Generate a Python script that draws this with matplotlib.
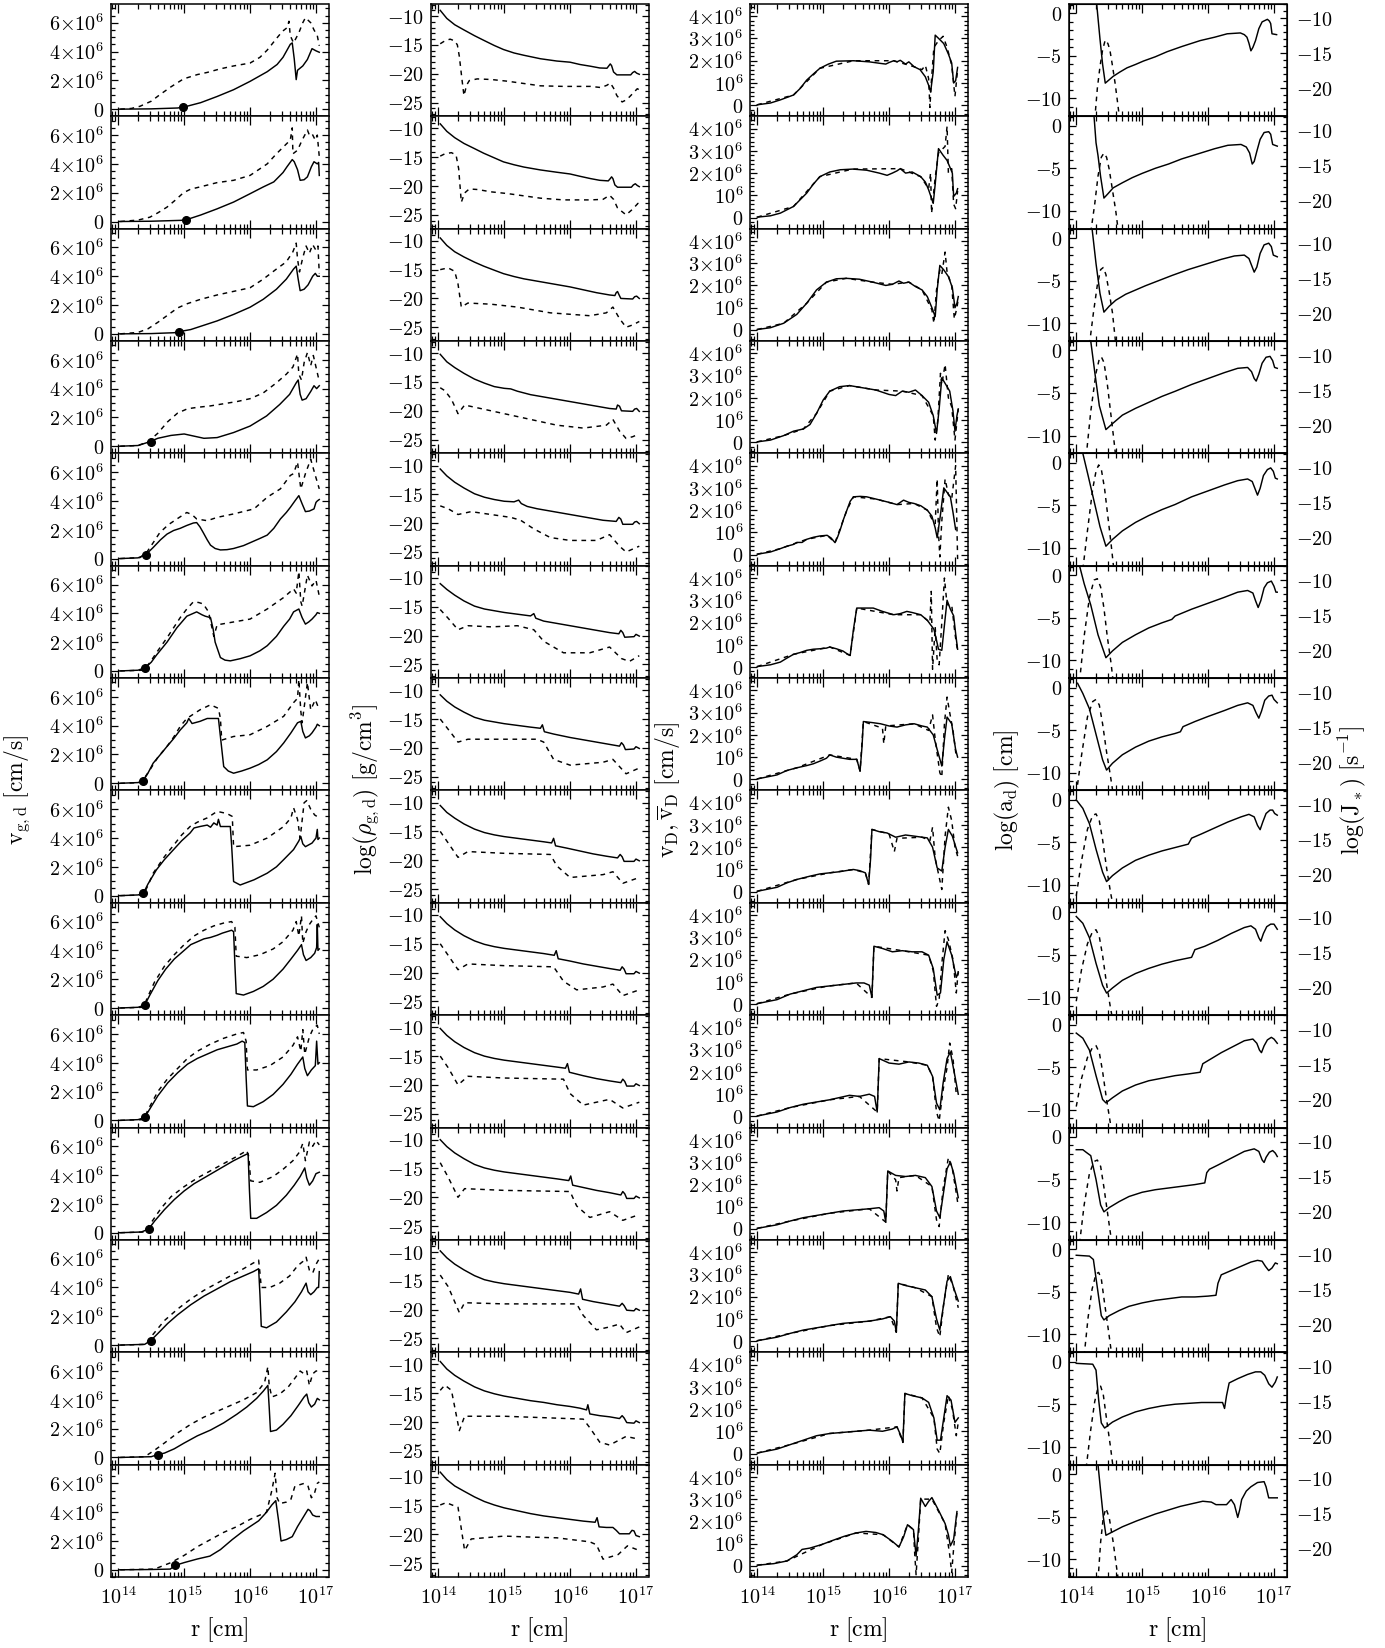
import numpy as np
import matplotlib
matplotlib.use("Agg")
import matplotlib.pyplot as plt
from matplotlib.ticker import FixedLocator, MultipleLocator, LogLocator, NullFormatter, FixedFormatter

plt.rcParams['mathtext.fontset'] = 'cm'
plt.rcParams['font.family'] = ['DejaVu Serif']

# ---------------- DATA (log10 r [cm], value) ----------------
# Column 1: gas (solid) and dust (dashed) velocity, in units of 1e6 cm/s
VG_GAS = [
 [(14.02,0.0),(14.5,0.02),(14.9,0.08),(15.0,0.15),(15.25,0.45),(15.5,0.88),(15.75,1.35),(16.0,1.93),(16.26,2.6),(16.41,3.1),(16.5,3.6),(16.61,4.5),(16.64,4.6),(16.67,3.5),(16.70,2.05),(16.72,2.7),(16.8,3.0),(16.87,3.45),(16.94,4.2),(17.0,4.05),(17.05,3.95)],
 [(14.02,0.0),(14.5,0.02),(14.95,0.08),(15.03,0.12),(15.25,0.45),(15.5,0.88),(15.75,1.35),(16.0,1.93),(16.2,2.4),(16.36,2.75),(16.5,3.4),(16.56,3.8),(16.64,4.3),(16.67,4.15),(16.72,3.6),(16.76,2.86),(16.82,2.9),(16.87,3.1),(16.93,3.8),(16.97,4.15),(17.02,4.0),(17.04,4.1),(17.05,3.2)],
 [(14.02,0.0),(14.5,0.02),(14.85,0.08),(14.92,0.15),(15.1,0.3),(15.3,0.6),(15.5,0.9),(15.75,1.35),(16.0,1.85),(16.2,2.4),(16.4,3.1),(16.55,3.8),(16.66,4.5),(16.7,4.7),(16.73,3.8),(16.76,3.0),(16.82,3.1),(16.88,3.4),(16.95,4.0),(16.99,4.2),(17.02,4.0),(17.05,4.0)],
 [(14.02,0.0),(14.3,0.05),(14.47,0.3),(14.6,0.55),(14.8,0.75),(15.0,0.85),(15.15,0.7),(15.3,0.55),(15.5,0.6),(15.75,0.95),(16.0,1.4),(16.25,2.1),(16.45,2.9),(16.6,3.6),(16.7,4.4),(16.73,4.6),(16.76,3.6),(16.79,3.2),(16.85,3.3),(16.92,3.8),(16.97,4.2),(17.01,4.0),(17.05,4.2)],
 [(14.02,0.0),(14.3,0.05),(14.42,0.28),(14.53,0.77),(14.64,1.3),(14.74,1.7),(14.84,1.95),(14.94,2.1),(15.04,2.3),(15.14,2.47),(15.19,2.5),(15.24,2.2),(15.29,1.8),(15.35,1.3),(15.40,0.93),(15.47,0.7),(15.55,0.6),(15.65,0.62),(15.75,0.7),(15.9,0.9),(16.0,1.1),(16.15,1.4),(16.26,1.63),(16.36,2.1),(16.46,2.75),(16.55,3.2),(16.61,3.55),(16.68,4.0),(16.74,4.37),(16.79,3.8),(16.84,3.26),(16.9,3.3),(16.97,3.45),(17.0,3.9),(17.02,4.0),(17.05,4.1)],
 [(14.02,0.0),(14.3,0.05),(14.41,0.23),(14.5,0.6),(14.58,1.1),(14.74,2.0),(14.89,3.0),(15.04,3.8),(15.19,4.1),(15.27,3.9),(15.32,3.8),(15.40,3.7),(15.44,2.9),(15.47,2.0),(15.55,0.93),(15.62,0.75),(15.70,0.7),(15.85,0.85),(16.0,1.05),(16.15,1.4),(16.26,1.75),(16.4,2.4),(16.51,3.1),(16.6,3.6),(16.66,4.1),(16.74,4.3),(16.79,3.7),(16.84,3.25),(16.89,3.4),(16.94,3.6),(17.0,3.9),(17.02,4.05),(17.05,4.0)],
 [(14.02,0.0),(14.3,0.05),(14.38,0.19),(14.45,0.7),(14.53,1.4),(14.64,2.0),(14.74,2.56),(14.84,3.1),(14.94,3.7),(15.04,4.2),(15.07,4.5),(15.12,4.15),(15.24,4.3),(15.35,4.5),(15.45,4.5),(15.52,4.5),(15.55,3.25),(15.60,1.16),(15.67,0.85),(15.75,0.7),(15.87,0.85),(16.0,1.05),(16.13,1.3),(16.26,1.63),(16.4,2.2),(16.51,2.8),(16.62,3.5),(16.72,4.2),(16.77,4.3),(16.8,3.6),(16.84,3.15),(16.9,3.3),(16.94,3.5),(17.0,3.9),(17.02,4.1),(17.05,4.0)],
 [(14.02,0.0),(14.3,0.05),(14.38,0.16),(14.45,0.8),(14.58,1.8),(14.7,2.5),(14.84,3.2),(14.96,3.8),(15.09,4.35),(15.15,4.7),(15.24,4.8),(15.35,4.9),(15.4,4.75),(15.45,5.05),(15.5,4.9),(15.52,5.3),(15.55,4.8),(15.70,4.8),(15.72,3.5),(15.73,2.7),(15.75,0.98),(15.85,0.74),(16.06,1.1),(16.26,1.56),(16.4,2.0),(16.51,2.5),(16.66,3.2),(16.74,3.8),(16.77,4.1),(16.8,3.6),(16.84,3.4),(16.94,3.65),(17.0,4.0),(17.02,4.6),(17.03,3.9),(17.05,4.0)],
 [(14.02,0.0),(14.3,0.05),(14.4,0.2),(14.48,0.9),(14.6,1.9),(14.72,2.7),(14.85,3.4),(15.0,4.0),(15.1,4.4),(15.2,4.6),(15.3,4.8),(15.4,4.9),(15.5,5.05),(15.58,5.2),(15.65,5.3),(15.72,5.4),(15.75,5.3),(15.77,3.0),(15.79,1.0),(15.9,0.9),(16.05,1.15),(16.2,1.5),(16.35,2.0),(16.5,2.7),(16.62,3.4),(16.72,4.0),(16.78,4.4),(16.81,3.7),(16.85,3.3),(16.92,3.5),(16.98,3.8),(17.01,4.2),(17.02,5.8),(17.03,4.0),(17.05,4.1)],
 [(14.02,0.0),(14.3,0.05),(14.4,0.2),(14.48,0.8),(14.6,1.7),(14.75,2.6),(14.9,3.3),(15.05,3.9),(15.2,4.3),(15.35,4.6),(15.5,4.9),(15.65,5.1),(15.8,5.3),(15.88,5.5),(15.92,5.4),(15.94,3.0),(15.96,1.0),(16.05,0.95),(16.2,1.3),(16.35,1.8),(16.5,2.5),(16.62,3.2),(16.72,3.9),(16.8,4.4),(16.83,3.6),(16.87,3.1),(16.93,3.5),(16.99,3.8),(17.01,5.5),(17.03,3.9),(17.05,4.0)],
 [(14.02,0.0),(14.35,0.05),(14.46,0.25),(14.55,0.8),(14.7,1.6),(14.85,2.3),(15.0,2.9),(15.15,3.4),(15.3,3.8),(15.45,4.2),(15.6,4.6),(15.75,5.0),(15.88,5.3),(15.97,5.5),(15.99,3.0),(16.01,1.0),(16.1,1.0),(16.25,1.4),(16.4,1.9),(16.55,2.6),(16.67,3.3),(16.76,3.9),(16.83,4.5),(16.86,3.8),(16.9,3.3),(16.95,3.6),(17.0,4.1),(17.05,4.2)],
 [(14.02,0.0),(14.4,0.05),(14.49,0.3),(14.6,0.8),(14.75,1.5),(14.9,2.1),(15.1,2.8),(15.3,3.4),(15.5,3.9),(15.7,4.4),(15.9,4.8),(16.05,5.1),(16.13,5.3),(16.15,3.5),(16.17,1.3),(16.25,1.2),(16.4,1.6),(16.55,2.3),(16.68,3.0),(16.78,3.7),(16.85,4.3),(16.88,3.7),(16.92,3.5),(16.97,3.7),(17.02,4.0),(17.04,4.0),(17.05,5.1)],
 [(14.02,0.0),(14.5,0.05),(14.6,0.2),(14.7,0.3),(14.85,0.6),(15.0,1.0),(15.2,1.5),(15.4,1.9),(15.6,2.4),(15.8,3.0),(15.95,3.5),(16.1,4.1),(16.2,4.6),(16.27,5.0),(16.29,3.5),(16.31,1.8),(16.4,1.9),(16.5,2.3),(16.62,2.9),(16.73,3.6),(16.82,4.2),(16.86,4.4),(16.89,3.8),(16.93,3.5),(16.98,3.7),(17.02,4.1),(17.05,4.0)],
 [(14.02,0.0),(14.5,0.02),(14.79,0.05),(14.86,0.3),(15.0,0.5),(15.2,0.75),(15.39,0.95),(15.55,1.4),(15.73,2.1),(15.9,2.7),(16.13,3.4),(16.25,4.0),(16.33,4.5),(16.39,4.8),(16.43,3.5),(16.47,2.0),(16.55,2.1),(16.64,2.3),(16.72,3.0),(16.8,3.6),(16.88,4.2),(16.91,4.1),(16.95,3.8),(17.0,3.7),(17.05,3.7)],
]
VG_DUST = [
 [(14.03,0.0),(14.2,0.05),(14.33,0.2),(14.5,0.55),(14.63,1.0),(14.8,1.55),(14.99,2.1),(15.2,2.4),(15.35,2.55),(15.55,2.8),(15.75,3.0),(16.0,3.2),(16.15,3.6),(16.26,4.1),(16.4,4.9),(16.49,5.4),(16.56,5.65),(16.59,6.1),(16.61,5.1),(16.66,4.6),(16.74,5.3),(16.8,6.0),(16.84,6.35),(16.92,6.0),(16.97,5.5),(17.02,5.1),(17.05,4.4)],
 [(14.03,0.0),(14.3,0.1),(14.48,0.3),(14.6,0.6),(14.74,1.0),(14.87,1.5),(14.99,2.0),(15.1,2.25),(15.24,2.4),(15.5,2.7),(15.75,2.86),(16.0,3.2),(16.26,4.0),(16.4,4.7),(16.51,5.2),(16.61,5.65),(16.64,6.5),(16.65,4.7),(16.72,4.95),(16.79,5.65),(16.87,6.35),(16.9,6.0),(16.94,6.1),(16.99,5.65),(17.02,6.0),(17.05,4.5)],
 [(14.03,0.0),(14.3,0.1),(14.45,0.35),(14.6,0.8),(14.75,1.3),(14.9,1.8),(15.05,2.1),(15.25,2.4),(15.5,2.7),(15.75,2.95),(16.0,3.2),(16.2,3.8),(16.4,4.5),(16.55,5.0),(16.65,5.7),(16.7,6.3),(16.72,5.2),(16.75,4.3),(16.8,5.3),(16.85,6.1),(16.9,5.6),(16.95,6.2),(17.0,5.8),(17.03,6.1),(17.05,4.2)],
 [(14.03,0.0),(14.3,0.05),(14.45,0.3),(14.6,0.9),(14.75,1.7),(14.9,2.3),(15.05,2.6),(15.2,2.7),(15.4,2.8),(15.6,2.95),(15.8,3.1),(16.0,3.3),(16.2,3.7),(16.4,4.4),(16.55,5.0),(16.65,5.5),(16.72,6.4),(16.74,5.0),(16.78,4.6),(16.82,5.8),(16.87,6.5),(16.92,5.6),(16.96,6.3),(17.0,5.5),(17.05,4.5)],
 [(14.03,0.0),(14.33,0.07),(14.43,0.42),(14.53,1.1),(14.63,1.8),(14.76,2.35),(14.89,2.75),(15.04,3.2),(15.12,3.05),(15.19,2.75),(15.35,2.63),(15.5,2.86),(15.75,3.1),(16.06,3.45),(16.26,4.26),(16.46,4.84),(16.61,5.77),(16.66,5.9),(16.72,6.7),(16.77,4.84),(16.84,5.9),(16.92,6.9),(16.99,5.77),(17.05,4.84)],
 [(14.03,0.0),(14.38,0.05),(14.48,0.58),(14.6,1.4),(14.74,2.3),(14.84,3.0),(14.94,3.7),(15.04,4.3),(15.14,4.8),(15.22,4.75),(15.29,4.65),(15.37,4.1),(15.45,2.4),(15.5,3.2),(15.75,3.4),(16.0,3.6),(16.26,4.3),(16.51,5.1),(16.66,5.7),(16.7,5.4),(16.74,6.9),(16.77,4.8),(16.79,4.5),(16.87,6.65),(16.94,5.9),(17.0,6.3),(17.05,5.2)],
 [(14.03,0.0),(14.35,0.05),(14.48,0.93),(14.6,1.8),(14.74,2.56),(14.84,3.2),(14.94,3.95),(15.04,4.5),(15.14,4.8),(15.24,5.1),(15.40,5.45),(15.52,5.2),(15.55,4.5),(15.57,3.0),(15.75,3.25),(16.0,3.37),(16.26,3.95),(16.51,4.65),(16.66,5.6),(16.72,5.9),(16.74,7.2),(16.77,5.0),(16.79,4.2),(16.87,7.0),(16.92,5.1),(16.99,5.8),(17.05,5.1)],
 [(14.03,0.0),(14.38,0.05),(14.45,0.7),(14.53,1.56),(14.7,2.7),(14.84,3.5),(14.96,4.2),(15.09,4.8),(15.2,5.1),(15.35,5.4),(15.5,5.85),(15.65,5.7),(15.73,5.5),(15.75,3.4),(16.0,3.5),(16.26,4.0),(16.51,4.8),(16.62,5.4),(16.66,6.1),(16.72,5.3),(16.76,4.0),(16.82,6.45),(16.86,6.6),(16.92,6.0),(16.98,5.6),(17.05,5.4)],
 [(14.03,0.0),(14.38,0.05),(14.45,0.8),(14.55,1.8),(14.7,2.9),(14.85,3.7),(15.0,4.4),(15.15,5.0),(15.3,5.4),(15.45,5.7),(15.6,5.9),(15.72,6.0),(15.77,5.6),(15.79,3.6),(15.95,3.5),(16.15,3.7),(16.35,4.1),(16.5,4.6),(16.65,5.4),(16.7,6.0),(16.74,5.0),(16.78,6.4),(16.8,4.5),(16.85,5.3),(16.9,5.8),(16.96,6.2),(17.0,6.4),(17.05,5.6)],
 [(14.03,0.0),(14.38,0.05),(14.46,0.8),(14.6,2.0),(14.75,2.9),(14.9,3.6),(15.05,4.3),(15.2,4.8),(15.4,5.3),(15.6,5.7),(15.8,6.0),(15.9,6.1),(15.94,5.5),(15.96,3.5),(16.1,3.5),(16.3,3.8),(16.5,4.4),(16.65,5.2),(16.72,5.8),(16.77,4.8),(16.8,6.3),(16.83,4.6),(16.9,5.8),(16.96,6.4),(17.02,6.6),(17.05,6.0)],
 [(14.03,0.0),(14.4,0.05),(14.5,0.7),(14.65,1.7),(14.8,2.5),(15.0,3.2),(15.2,3.8),(15.4,4.3),(15.6,4.8),(15.8,5.3),(15.95,5.7),(15.98,5.3),(16.01,3.6),(16.15,3.5),(16.35,3.9),(16.5,4.4),(16.65,5.0),(16.75,5.6),(16.8,6.2),(16.84,5.0),(16.9,6.3),(16.95,6.0),(17.0,6.4),(17.05,6.1)],
 [(14.03,0.0),(14.42,0.05),(14.52,0.7),(14.7,1.7),(14.9,2.5),(15.1,3.2),(15.3,3.8),(15.5,4.3),(15.7,4.8),(15.9,5.3),(16.05,5.7),(16.13,5.9),(16.15,5.0),(16.17,4.0),(16.3,4.0),(16.45,4.3),(16.6,4.8),(16.72,5.5),(16.8,5.8),(16.85,6.1),(16.9,5.2),(16.95,5.0),(17.0,5.6),(17.05,6.0)],
 [(14.03,0.0),(14.4,0.05),(14.55,0.5),(14.7,1.0),(14.9,1.7),(15.1,2.3),(15.3,2.8),(15.5,3.2),(15.7,3.6),(15.9,4.0),(16.1,4.5),(16.22,5.2),(16.27,6.3),(16.29,5.0),(16.33,4.2),(16.45,4.4),(16.58,4.9),(16.68,5.5),(16.76,6.0),(16.82,5.8),(16.86,6.0),(16.9,5.0),(16.95,5.8),(17.0,6.0),(17.05,6.0)],
 [(14.03,0.0),(14.55,0.05),(14.8,0.5),(15.0,1.0),(15.2,1.6),(15.4,2.1),(15.6,2.6),(15.8,3.0),(16.0,3.5),(16.15,3.8),(16.25,4.0),(16.33,5.5),(16.38,6.7),(16.41,5.0),(16.45,4.6),(16.55,4.7),(16.62,4.9),(16.68,5.8),(16.75,5.9),(16.82,6.0),(16.88,5.8),(16.93,5.0),(16.97,5.2),(17.02,6.0),(17.05,6.1)],
]
# marked point on the gas velocity curve (log r, v/1e6)
VG_DOT = [(14.99,0.14),(15.03,0.12),(14.92,0.15),(14.50,0.3),(14.42,0.28),(14.41,0.23),(14.38,0.19),(14.38,0.16),
          (14.40,0.2),(14.40,0.2),(14.46,0.25),(14.49,0.3),(14.60,0.2),(14.86,0.3)]

# Column 2: log gas (solid) and dust (dashed) density
RHO_GAS = [
 [(14.03,-9.0),(14.13,-10.4),(14.25,-11.5),(14.39,-12.4),(14.55,-13.4),(14.69,-14.2),(14.85,-15.1),(14.99,-15.8),(15.15,-16.4),(15.3,-16.8),(15.55,-17.4),(15.8,-17.8),(16.0,-18.0),(16.15,-18.4),(16.31,-18.7),(16.45,-19.0),(16.56,-19.05),(16.59,-18.6),(16.61,-18.3),(16.63,-18.6),(16.66,-19.7),(16.71,-20.2),(16.92,-20.2),(16.95,-19.8),(16.98,-19.6),(17.01,-19.9),(17.05,-20.1)],
 [(14.03,-9.2),(14.13,-10.5),(14.25,-11.6),(14.39,-12.6),(14.55,-13.5),(14.69,-14.3),(14.85,-15.1),(14.99,-15.8),(15.15,-16.3),(15.3,-16.7),(15.55,-17.2),(15.8,-17.6),(16.0,-17.9),(16.15,-18.3),(16.31,-18.7),(16.45,-19.0),(16.58,-19.1),(16.61,-18.7),(16.63,-18.4),(16.65,-18.7),(16.68,-19.8),(16.72,-20.2),(16.93,-20.2),(16.96,-19.8),(16.99,-19.6),(17.02,-19.9),(17.05,-20.1)],
 [(14.03,-9.5),(14.13,-10.8),(14.25,-11.9),(14.39,-12.8),(14.55,-13.7),(14.69,-14.4),(14.85,-15.1),(14.99,-15.7),(15.15,-16.2),(15.3,-16.6),(15.55,-17.1),(15.8,-17.6),(16.0,-18.0),(16.2,-18.5),(16.4,-19.0),(16.6,-19.4),(16.68,-19.5),(16.7,-19.0),(16.72,-18.8),(16.74,-19.3),(16.77,-20.0),(16.95,-20.1),(16.98,-19.7),(17.01,-19.6),(17.05,-20.0)],
 [(14.03,-10.2),(14.13,-11.5),(14.25,-12.5),(14.39,-13.5),(14.55,-14.5),(14.7,-15.2),(14.85,-15.8),(15.0,-16.1),(15.1,-16.2),(15.2,-16.6),(15.4,-17.2),(15.6,-17.6),(15.8,-18.0),(16.0,-18.4),(16.2,-18.8),(16.4,-19.2),(16.6,-19.6),(16.7,-19.7),(16.72,-19.0),(16.75,-19.2),(16.78,-20.0),(16.95,-20.1),(16.98,-19.7),(17.01,-19.6),(17.05,-20.1)],
 [(14.03,-10.6),(14.13,-11.8),(14.25,-12.9),(14.39,-13.9),(14.55,-14.9),(14.7,-15.5),(14.85,-15.9),(15.0,-16.2),(15.15,-16.3),(15.22,-16.0),(15.26,-16.6),(15.35,-17.1),(15.5,-17.5),(15.7,-17.9),(15.9,-18.3),(16.1,-18.7),(16.3,-19.1),(16.5,-19.5),(16.7,-19.7),(16.74,-19.0),(16.77,-19.3),(16.8,-20.2),(16.95,-20.2),(16.98,-19.8),(17.01,-19.7),(17.05,-20.1)],
 [(14.03,-11.0),(14.13,-12.0),(14.25,-13.0),(14.39,-14.0),(14.55,-14.9),(14.7,-15.4),(14.85,-15.7),(15.0,-16.0),(15.2,-16.3),(15.4,-16.6),(15.45,-16.2),(15.48,-17.0),(15.6,-17.5),(15.8,-17.9),(16.0,-18.3),(16.2,-18.7),(16.4,-19.1),(16.6,-19.5),(16.74,-19.7),(16.77,-19.1),(16.8,-19.5),(16.83,-20.3),(16.97,-20.2),(17.0,-19.8),(17.05,-20.1)],
 [(14.03,-10.8),(14.13,-11.9),(14.25,-12.9),(14.39,-13.8),(14.55,-14.7),(14.7,-15.2),(14.85,-15.5),(15.0,-15.8),(15.2,-16.1),(15.4,-16.4),(15.55,-16.6),(15.58,-16.0),(15.61,-17.2),(15.75,-17.6),(16.0,-18.2),(16.2,-18.6),(16.4,-19.0),(16.6,-19.4),(16.75,-19.7),(16.78,-19.1),(16.81,-19.5),(16.84,-20.3),(16.97,-20.2),(17.0,-19.8),(17.05,-20.1)],
 [(14.03,-10.5),(14.13,-11.7),(14.25,-12.7),(14.39,-13.7),(14.55,-14.6),(14.7,-15.2),(14.85,-15.6),(15.0,-15.9),(15.2,-16.2),(15.4,-16.5),(15.6,-16.8),(15.72,-17.0),(15.75,-16.2),(15.78,-17.5),(15.95,-17.9),(16.15,-18.4),(16.35,-18.9),(16.55,-19.3),(16.72,-19.6),(16.76,-19.0),(16.79,-19.4),(16.82,-20.2),(16.97,-20.2),(17.0,-19.8),(17.05,-20.1)],
 [(14.03,-10.3),(14.13,-11.5),(14.25,-12.6),(14.39,-13.6),(14.55,-14.5),(14.7,-15.1),(14.85,-15.5),(15.0,-15.8),(15.2,-16.1),(15.4,-16.4),(15.6,-16.7),(15.76,-17.0),(15.79,-16.2),(15.82,-17.6),(16.0,-18.0),(16.2,-18.5),(16.4,-18.9),(16.6,-19.3),(16.76,-19.6),(16.79,-19.0),(16.82,-19.4),(16.85,-20.2),(16.97,-20.2),(17.0,-19.8),(17.05,-20.1)],
 [(14.03,-10.2),(14.13,-11.4),(14.25,-12.5),(14.39,-13.5),(14.55,-14.4),(14.7,-15.0),(14.85,-15.4),(15.0,-15.7),(15.2,-16.0),(15.4,-16.3),(15.6,-16.6),(15.8,-16.9),(15.93,-17.1),(15.96,-16.3),(15.99,-17.8),(16.2,-18.4),(16.4,-18.9),(16.6,-19.3),(16.77,-19.6),(16.8,-19.0),(16.83,-19.4),(16.86,-20.2),(16.97,-20.2),(17.0,-19.8),(17.05,-20.1)],
 [(14.03,-10.0),(14.13,-11.2),(14.25,-12.3),(14.39,-13.3),(14.55,-14.3),(14.7,-14.9),(14.85,-15.3),(15.0,-15.6),(15.2,-15.9),(15.4,-16.2),(15.6,-16.5),(15.8,-16.8),(15.98,-17.1),(16.01,-16.3),(16.04,-17.9),(16.2,-18.3),(16.4,-18.8),(16.6,-19.2),(16.77,-19.6),(16.8,-19.0),(16.83,-19.4),(16.86,-20.2),(16.97,-20.2),(17.0,-19.8),(17.05,-20.1)],
 [(14.03,-9.8),(14.13,-11.0),(14.25,-12.1),(14.39,-13.1),(14.55,-14.1),(14.7,-14.8),(14.85,-15.2),(15.0,-15.5),(15.2,-15.8),(15.4,-16.1),(15.6,-16.4),(15.8,-16.7),(16.0,-17.0),(16.13,-17.3),(16.16,-16.4),(16.19,-18.2),(16.35,-18.6),(16.55,-19.0),(16.75,-19.4),(16.79,-18.9),(16.82,-19.3),(16.86,-20.1),(16.97,-20.2),(17.0,-19.8),(17.05,-20.1)],
 [(14.03,-9.5),(14.13,-10.8),(14.25,-11.9),(14.39,-12.9),(14.55,-13.9),(14.7,-14.6),(14.85,-15.1),(15.0,-15.5),(15.2,-15.9),(15.4,-16.3),(15.6,-16.6),(15.8,-17.0),(16.0,-17.3),(16.15,-17.6),(16.25,-17.9),(16.27,-17.0),(16.3,-18.6),(16.45,-18.9),(16.6,-19.1),(16.75,-19.4),(16.79,-18.9),(16.82,-19.3),(16.86,-20.1),(16.97,-20.2),(17.0,-19.8),(17.05,-20.1)],
 [(14.03,-9.2),(14.13,-10.5),(14.25,-11.6),(14.39,-12.5),(14.55,-13.5),(14.7,-14.3),(14.85,-14.9),(15.0,-15.4),(15.2,-15.9),(15.4,-16.4),(15.6,-16.8),(15.8,-17.1),(16.0,-17.4),(16.2,-17.7),(16.38,-17.9),(16.41,-17.1),(16.44,-18.7),(16.55,-18.8),(16.65,-18.8),(16.7,-19.3),(16.75,-19.9),(16.9,-19.9),(16.94,-19.3),(16.97,-19.4),(17.0,-20.2),(17.05,-20.4)],
]
RHO_DUST = [
 [(14.03,-14.8),(14.1,-14.3),(14.18,-14.0),(14.25,-14.3),(14.29,-15.0),(14.32,-17.0),(14.36,-21.0),(14.39,-23.8),(14.43,-22.0),(14.47,-21.2),(14.59,-20.9),(14.8,-21.0),(15.05,-21.3),(15.3,-21.7),(15.55,-22.1),(15.9,-22.2),(16.31,-22.2),(16.47,-22.4),(16.56,-22.0),(16.61,-21.6),(16.66,-22.5),(16.71,-23.8),(16.79,-24.9),(16.86,-24.5),(16.92,-23.8),(17.02,-22.6),(17.05,-22.8)],
 [(14.03,-14.8),(14.1,-14.4),(14.2,-14.2),(14.27,-14.6),(14.31,-17.0),(14.35,-22.8),(14.4,-21.2),(14.47,-20.5),(14.6,-20.6),(14.8,-21.0),(15.05,-21.3),(15.3,-21.7),(15.55,-22.1),(15.9,-22.4),(16.31,-22.4),(16.5,-22.3),(16.6,-21.6),(16.66,-22.3),(16.72,-23.8),(16.85,-25.0),(16.95,-24.0),(17.03,-23.0),(17.05,-23.3)],
 [(14.03,-15.0),(14.15,-14.7),(14.25,-15.3),(14.3,-17.5),(14.35,-21.5),(14.45,-20.8),(14.8,-21.0),(15.2,-21.5),(15.7,-22.5),(16.3,-23.0),(16.55,-22.5),(16.65,-21.5),(16.75,-23.5),(16.85,-25.0),(16.95,-24.6),(17.05,-24.0)],
 [(14.03,-16.0),(14.1,-16.5),(14.2,-18.0),(14.3,-20.5),(14.4,-19.0),(14.6,-19.5),(15.0,-20.5),(15.4,-21.5),(15.8,-22.5),(16.2,-23.0),(16.55,-22.5),(16.65,-21.5),(16.75,-23.5),(16.85,-24.8),(16.95,-24.5),(17.05,-24.0)],
 [(14.03,-17.0),(14.15,-17.5),(14.3,-18.5),(14.5,-18.0),(14.8,-18.5),(15.1,-19.0),(15.25,-19.5),(15.45,-21.0),(15.7,-22.5),(16.0,-23.0),(16.4,-23.0),(16.6,-22.0),(16.75,-24.0),(16.85,-25.0),(16.95,-24.5),(17.05,-24.0)],
 [(14.03,-15.5),(14.15,-17.0),(14.3,-19.0),(14.45,-18.3),(14.8,-18.5),(15.2,-18.3),(15.45,-19.0),(15.6,-21.0),(15.9,-23.0),(16.3,-23.0),(16.6,-22.0),(16.78,-24.0),(16.9,-24.5),(17.05,-23.5)],
 [(14.03,-15.0),(14.2,-17.5),(14.3,-19.0),(14.45,-18.5),(15.0,-18.5),(15.5,-18.5),(15.6,-19.0),(15.75,-22.0),(16.0,-23.0),(16.5,-22.5),(16.65,-22.0),(16.85,-24.5),(17.05,-23.5)],
 [(14.03,-15.0),(14.15,-17.0),(14.3,-19.5),(14.45,-18.5),(15.0,-18.8),(15.7,-19.0),(15.8,-21.0),(16.0,-23.0),(16.5,-22.5),(16.65,-22.0),(16.8,-24.0),(17.05,-23.0)],
 [(14.03,-15.0),(14.15,-17.0),(14.3,-19.5),(14.45,-18.5),(15.0,-18.8),(15.75,-19.0),(15.9,-21.5),(16.1,-23.0),(16.5,-22.5),(16.65,-22.0),(16.8,-24.0),(17.05,-23.0)],
 [(14.03,-15.0),(14.15,-17.0),(14.3,-20.0),(14.45,-18.5),(15.0,-18.8),(15.9,-19.0),(16.0,-21.5),(16.2,-23.5),(16.6,-22.5),(16.8,-24.0),(17.05,-23.0)],
 [(14.03,-14.0),(14.15,-16.5),(14.3,-20.0),(14.4,-18.5),(15.0,-18.8),(16.0,-19.0),(16.1,-21.5),(16.3,-23.5),(16.6,-22.5),(16.8,-24.0),(17.05,-23.0)],
 [(14.03,-14.0),(14.15,-16.0),(14.32,-20.5),(14.4,-18.8),(15.0,-19.0),(16.1,-19.0),(16.2,-21.0),(16.4,-23.5),(16.6,-23.0),(16.75,-22.5),(16.85,-24.0),(17.05,-23.0)],
 [(14.03,-14.5),(14.1,-13.6),(14.2,-14.5),(14.32,-21.5),(14.4,-19.0),(15.0,-19.0),(16.2,-19.5),(16.3,-21.0),(16.45,-23.5),(16.6,-24.0),(16.85,-22.5),(17.05,-23.0)],
 [(14.03,-14.9),(14.12,-14.5),(14.3,-15.3),(14.4,-22.8),(14.5,-20.8),(15.0,-20.3),(15.47,-20.5),(15.8,-20.6),(16.3,-21.3),(16.4,-21.8),(16.5,-24.3),(16.73,-23.5),(16.87,-22.0),(17.05,-22.8)],
]

# Column 3: drift velocities (solid v_D, dashed mean v_D), units of 1e6 cm/s
VD_SOLID = [
 [(14.0,0.02),(14.2,0.1),(14.35,0.24),(14.55,0.46),(14.65,0.75),(14.75,1.13),(14.85,1.4),(14.95,1.66),(15.08,1.85),(15.2,1.98),(15.46,2.0),(15.7,1.95),(15.87,1.88),(15.95,1.85),(16.0,1.92),(16.07,2.0),(16.12,1.95),(16.17,2.02),(16.25,1.85),(16.3,1.95),(16.38,1.73),(16.47,1.6),(16.55,1.28),(16.6,0.9),(16.63,0.6),(16.67,1.5),(16.7,3.15),(16.77,2.95),(16.83,2.77),(16.9,2.3),(16.95,1.9),(16.98,1.0),(17.01,1.1),(17.04,1.7)],
 [(14.0,0.02),(14.2,0.08),(14.35,0.2),(14.55,0.5),(14.75,1.1),(14.85,1.5),(14.95,1.84),(15.1,2.05),(15.26,2.15),(15.45,2.18),(15.66,2.13),(15.85,2.0),(15.97,1.9),(16.05,2.0),(16.12,2.1),(16.17,2.2),(16.25,2.0),(16.35,2.05),(16.48,1.84),(16.55,1.6),(16.6,1.25),(16.67,0.64),(16.7,1.5),(16.75,3.1),(16.82,2.8),(16.88,2.57),(16.96,2.0),(16.98,0.95),(17.02,1.1),(17.04,1.3)],
 [(14.0,0.02),(14.2,0.1),(14.4,0.3),(14.6,0.7),(14.75,1.2),(14.9,1.8),(15.05,2.15),(15.2,2.3),(15.35,2.32),(15.55,2.28),(15.75,2.15),(15.95,2.0),(16.05,2.05),(16.15,2.2),(16.22,2.1),(16.3,2.15),(16.4,1.95),(16.5,1.8),(16.58,1.5),(16.65,1.0),(16.7,0.6),(16.73,1.8),(16.77,2.9),(16.83,2.7),(16.9,2.4),(16.96,1.9),(17.0,1.0),(17.03,1.2),(17.05,1.5)],
 [(14.0,0.02),(14.2,0.1),(14.4,0.3),(14.55,0.5),(14.7,0.6),(14.8,0.8),(14.9,1.3),(15.0,1.9),(15.1,2.3),(15.25,2.5),(15.4,2.55),(15.6,2.45),(15.8,2.35),(16.0,2.15),(16.1,2.1),(16.2,2.3),(16.3,2.25),(16.4,2.35),(16.5,2.1),(16.6,1.8),(16.67,1.2),(16.72,0.4),(16.76,1.5),(16.8,2.9),(16.86,2.6),(16.92,2.3),(16.97,1.4),(17.0,0.5),(17.03,1.2),(17.05,1.5)],
 [(14.0,0.02),(14.2,0.12),(14.35,0.27),(14.45,0.38),(14.55,0.46),(14.6,0.55),(14.68,0.55),(14.75,0.69),(14.85,0.78),(14.95,0.84),(15.06,0.87),(15.12,0.75),(15.18,0.54),(15.22,0.8),(15.26,1.13),(15.31,1.6),(15.36,2.0),(15.41,2.4),(15.46,2.6),(15.56,2.62),(15.66,2.6),(15.8,2.5),(16.0,2.35),(16.12,2.25),(16.17,2.35),(16.22,2.45),(16.3,2.35),(16.38,2.3),(16.48,2.2),(16.58,2.0),(16.65,1.73),(16.7,1.2),(16.73,0.76),(16.78,1.8),(16.83,3.0),(16.88,2.8),(16.93,2.6),(16.97,1.9),(17.01,1.13)],
 [(14.0,0.02),(14.2,0.1),(14.35,0.22),(14.45,0.4),(14.55,0.57),(14.65,0.65),(14.75,0.75),(14.85,0.8),(14.95,0.82),(15.05,0.85),(15.1,0.9),(15.2,0.82),(15.3,0.72),(15.36,0.6),(15.41,0.52),(15.46,1.7),(15.51,2.65),(15.6,2.65),(15.76,2.65),(15.9,2.5),(16.07,2.35),(16.17,2.4),(16.27,2.5),(16.35,2.45),(16.48,2.35),(16.58,2.1),(16.68,1.7),(16.72,1.2),(16.75,0.8),(16.8,0.75),(16.83,1.6),(16.88,3.0),(16.93,2.6),(16.98,2.3),(17.01,1.5),(17.04,0.8)],
 [(14.0,0.02),(14.3,0.2),(14.45,0.4),(14.6,0.52),(14.75,0.62),(14.85,0.7),(14.95,0.82),(15.05,0.95),(15.1,1.1),(15.2,1.0),(15.3,0.95),(15.4,0.9),(15.51,0.9),(15.56,0.37),(15.59,1.5),(15.61,2.6),(15.75,2.55),(15.87,2.5),(16.0,2.4),(16.12,2.35),(16.25,2.45),(16.38,2.5),(16.5,2.4),(16.58,2.35),(16.67,2.0),(16.73,1.34),(16.8,0.6),(16.84,1.8),(16.88,2.8),(16.95,2.5),(17.01,1.34),(17.04,1.0)],
 [(14.0,0.02),(14.3,0.2),(14.45,0.4),(14.6,0.55),(14.8,0.7),(14.95,0.8),(15.1,0.85),(15.25,0.9),(15.35,0.95),(15.46,1.0),(15.55,0.95),(15.64,0.85),(15.69,0.33),(15.72,1.5),(15.74,2.8),(15.85,2.7),(15.97,2.64),(16.1,2.45),(16.25,2.55),(16.38,2.5),(16.5,2.45),(16.58,2.42),(16.66,2.0),(16.73,1.07),(16.8,0.93),(16.85,2.0),(16.9,2.8),(16.96,2.5),(17.04,1.75)],
 [(14.0,0.02),(14.3,0.2),(14.5,0.45),(14.7,0.6),(14.9,0.75),(15.05,0.8),(15.2,0.85),(15.35,0.9),(15.5,0.95),(15.62,0.95),(15.7,0.85),(15.74,0.3),(15.77,2.6),(15.9,2.5),(16.05,2.35),(16.2,2.4),(16.35,2.35),(16.5,2.35),(16.6,2.2),(16.67,1.6),(16.73,0.4),(16.78,0.5),(16.83,2.0),(16.88,2.8),(16.95,2.2),(17.02,1.2),(17.05,1.4)],
 [(14.0,0.02),(14.3,0.2),(14.5,0.4),(14.7,0.55),(14.9,0.65),(15.1,0.75),(15.25,0.85),(15.4,0.95),(15.55,0.9),(15.7,1.0),(15.78,0.9),(15.82,0.2),(15.85,2.6),(16.0,2.4),(16.15,2.35),(16.3,2.45),(16.45,2.4),(16.58,2.3),(16.66,1.8),(16.72,0.6),(16.77,0.3),(16.82,1.5),(16.88,2.6),(16.93,2.9),(17.0,1.8),(17.05,1.0)],
 [(14.0,0.02),(14.3,0.18),(14.5,0.35),(14.7,0.5),(14.9,0.6),(15.1,0.7),(15.3,0.8),(15.5,0.85),(15.7,0.9),(15.85,0.95),(15.92,0.8),(15.95,0.3),(15.98,2.6),(16.1,2.4),(16.25,2.35),(16.4,2.4),(16.55,2.3),(16.65,1.9),(16.72,0.8),(16.77,0.5),(16.82,1.5),(16.88,2.7),(16.93,3.0),(16.98,2.5),(17.05,1.4)],
 [(14.0,0.02),(14.3,0.18),(14.5,0.35),(14.7,0.5),(14.9,0.6),(15.1,0.7),(15.3,0.8),(15.5,0.85),(15.7,0.9),(15.9,1.0),(16.02,1.1),(16.08,0.9),(16.11,0.4),(16.14,2.6),(16.25,2.5),(16.4,2.4),(16.55,2.3),(16.65,2.0),(16.72,1.0),(16.77,0.5),(16.82,1.5),(16.88,2.7),(16.93,2.9),(16.98,2.4),(17.05,1.8)],
 [(14.0,0.02),(14.3,0.2),(14.5,0.4),(14.7,0.6),(14.9,0.8),(15.1,0.9),(15.3,0.95),(15.5,1.0),(15.7,1.05),(15.9,1.0),(16.05,1.1),(16.12,1.2),(16.18,0.8),(16.21,0.5),(16.24,2.7),(16.35,2.6),(16.5,2.5),(16.6,2.3),(16.68,1.6),(16.73,0.6),(16.78,0.6),(16.83,1.6),(16.88,2.6),(16.94,2.4),(17.0,1.4),(17.05,1.6)],
 [(14.0,0.03),(14.25,0.1),(14.45,0.22),(14.6,0.5),(14.68,0.74),(14.8,0.8),(14.98,0.96),(15.15,1.15),(15.32,1.33),(15.5,1.48),(15.65,1.55),(15.8,1.5),(15.91,1.4),(16.05,1.1),(16.15,0.85),(16.22,1.3),(16.28,1.85),(16.34,1.7),(16.37,1.63),(16.41,0.44),(16.45,1.8),(16.48,3.04),(16.55,2.67),(16.6,2.9),(16.65,3.07),(16.75,2.5),(16.85,1.9),(16.9,1.4),(16.93,0.9),(16.98,1.2),(17.03,2.44)],
]
VD_DASHED = [
 [(14.0,0.02),(14.55,0.46),(14.95,1.66),(15.46,2.0),(16.07,2.0),(16.38,1.73),(16.5,1.6),(16.55,1.8),(16.6,1.2),(16.62,-0.1),(16.64,1.0),(16.68,2.6),(16.75,2.9),(16.82,3.1),(16.88,2.6),(16.95,1.8),(17.0,0.4),(17.04,1.6)],
 [(14.0,0.02),(14.55,0.5),(14.95,1.84),(15.45,2.18),(16.17,2.2),(16.48,1.84),(16.6,1.3),(16.63,2.0),(16.645,0.2),(16.7,1.8),(16.75,2.9),(16.85,3.2),(16.88,4.1),(16.9,2.0),(16.95,2.2),(16.98,0.6),(17.01,0.4),(17.04,1.2)],
 [(14.0,0.02),(14.4,0.3),(14.75,1.2),(15.05,2.15),(15.35,2.32),(15.75,2.15),(16.05,2.05),(16.3,2.15),(16.5,1.8),(16.65,0.9),(16.68,0.3),(16.72,1.8),(16.77,2.7),(16.8,2.5),(16.85,3.5),(16.88,2.6),(16.95,2.0),(16.99,0.5),(17.03,1.0),(17.05,1.4)],
 [(14.0,0.02),(14.4,0.3),(14.7,0.6),(14.9,1.3),(15.1,2.3),(15.4,2.55),(15.8,2.35),(16.2,2.3),(16.5,2.1),(16.67,1.2),(16.7,0.1),(16.74,1.0),(16.78,3.1),(16.8,2.6),(16.85,3.5),(16.9,2.0),(16.95,1.6),(17.0,0.1),(17.05,1.5)],
 [(14.0,0.02),(14.35,0.27),(14.75,0.69),(15.06,0.87),(15.18,0.54),(15.36,2.0),(15.46,2.6),(15.8,2.5),(16.12,2.25),(16.38,2.3),(16.58,2.0),(16.65,1.6),(16.7,1.4),(16.73,3.4),(16.75,1.0),(16.77,-0.1),(16.8,1.5),(16.85,3.4),(16.9,2.7),(16.95,2.5),(17.01,4.0),(17.04,-0.2)],
 [(14.0,0.02),(14.55,0.57),(15.1,0.9),(15.41,0.52),(15.51,2.65),(16.07,2.35),(16.48,2.35),(16.62,2.0),(16.64,3.4),(16.66,-0.1),(16.7,1.8),(16.73,0.3),(16.76,0.1),(16.8,2.0),(16.84,4.0),(16.88,2.8),(16.95,2.8),(17.0,1.5),(17.04,0.7)],
 [(14.0,0.02),(14.6,0.52),(15.1,1.1),(15.51,0.9),(15.56,0.37),(15.61,2.6),(15.9,2.3),(15.92,1.6),(15.95,2.4),(16.38,2.5),(16.6,2.2),(16.66,2.9),(16.7,1.8),(16.77,0.3),(16.8,0.1),(16.84,2.5),(16.88,3.7),(16.92,3.0),(16.97,2.2),(17.02,1.0)],
 [(14.0,0.02),(14.6,0.55),(15.1,0.85),(15.46,1.0),(15.64,0.85),(15.69,0.33),(15.74,2.8),(16.0,2.6),(16.08,1.8),(16.12,2.4),(16.5,2.45),(16.62,2.3),(16.66,2.9),(16.7,1.5),(16.75,0.8),(16.8,0.1),(16.85,2.5),(16.9,3.8),(16.95,3.2),(17.0,2.0),(17.04,1.6)],
 [(14.0,0.02),(14.5,0.45),(15.05,0.8),(15.5,0.95),(15.74,0.3),(15.77,2.6),(16.2,2.4),(16.6,2.2),(16.67,1.5),(16.72,-0.1),(16.76,0.2),(16.8,1.8),(16.85,3.3),(16.9,2.9),(16.97,2.0),(17.02,0.5),(17.05,1.5)],
 [(14.0,0.02),(14.5,0.4),(15.1,0.75),(15.55,0.9),(15.82,0.2),(15.85,2.6),(16.3,2.45),(16.58,2.3),(16.66,1.8),(16.72,0.2),(16.76,-0.2),(16.82,1.2),(16.88,2.2),(16.92,3.3),(16.97,2.6),(17.02,1.0)],
 [(14.0,0.02),(14.5,0.35),(15.1,0.7),(15.7,0.9),(15.95,0.3),(15.98,2.6),(16.1,2.2),(16.12,1.7),(16.15,2.3),(16.4,2.4),(16.65,1.9),(16.72,0.4),(16.76,0.1),(16.82,1.8),(16.9,3.2),(16.96,2.7),(17.02,1.6),(17.05,1.0)],
 [(14.0,0.02),(14.5,0.35),(15.1,0.7),(15.7,0.9),(16.02,1.1),(16.11,0.4),(16.14,2.6),(16.4,2.4),(16.65,2.0),(16.72,0.6),(16.77,0.2),(16.83,1.7),(16.9,3.0),(16.97,2.5),(17.05,1.5)],
 [(14.0,0.02),(14.5,0.4),(15.1,0.9),(15.7,1.05),(16.12,1.2),(16.21,0.5),(16.24,2.7),(16.5,2.5),(16.68,1.6),(16.73,0.2),(16.77,0.0),(16.83,1.4),(16.9,2.6),(16.96,2.0),(17.02,0.8),(17.05,1.4)],
 [(14.0,0.03),(14.45,0.22),(14.98,0.96),(15.5,1.48),(15.91,1.4),(16.15,0.85),(16.28,1.85),(16.37,1.63),(16.39,0.5),(16.41,-0.4),(16.44,1.0),(16.48,3.0),(16.65,3.0),(16.85,1.9),(16.92,0.5),(16.95,-0.3),(16.98,0.8),(17.03,2.4)],
]

# Column 4: log grain radius (solid, left axis) and log nucleation rate (dashed, right axis)
AD_SOLID = [
 [(14.31,1.1),(14.36,-3.0),(14.4,-6.0),(14.44,-8.2),(14.5,-7.8),(14.56,-7.4),(14.66,-6.9),(14.77,-6.4),(14.9,-6.0),(15.02,-5.6),(15.2,-5.1),(15.38,-4.5),(15.6,-3.9),(15.88,-3.2),(16.1,-2.8),(16.29,-2.4),(16.49,-2.3),(16.55,-2.5),(16.59,-2.8),(16.62,-3.5),(16.65,-4.4),(16.68,-4.0),(16.72,-3.2),(16.77,-1.8),(16.82,-1.0),(16.9,-0.7),(16.93,-0.9),(16.95,-1.2),(16.97,-2.4),(17.04,-2.5)],
 [(14.27,1.1),(14.3,-2.0),(14.33,-3.5),(14.37,-6.0),(14.42,-8.5),(14.48,-8.0),(14.56,-7.3),(14.7,-6.7),(14.85,-6.1),(15.0,-5.6),(15.2,-5.0),(15.4,-4.5),(15.6,-3.9),(15.85,-3.3),(16.1,-2.7),(16.3,-2.3),(16.5,-2.2),(16.58,-2.5),(16.63,-3.2),(16.67,-4.5),(16.7,-4.2),(16.74,-3.0),(16.79,-1.6),(16.85,-0.8),(16.92,-0.7),(16.95,-1.0),(16.98,-2.2),(17.05,-2.4)],
 [(14.24,1.1),(14.3,-3.0),(14.36,-6.5),(14.42,-8.7),(14.5,-8.0),(14.6,-7.3),(14.75,-6.6),(14.9,-6.1),(15.05,-5.6),(15.25,-5.0),(15.45,-4.4),(15.7,-3.7),(15.95,-3.1),(16.2,-2.5),(16.4,-2.1),(16.55,-2.0),(16.62,-2.4),(16.67,-3.4),(16.7,-4.0),(16.74,-3.4),(16.79,-1.8),(16.85,-0.8),(16.92,-0.6),(16.96,-1.0),(16.99,-2.0),(17.05,-2.2)],
 [(14.22,1.1),(14.28,-2.5),(14.35,-6.5),(14.45,-9.3),(14.55,-8.6),(14.7,-7.6),(14.9,-6.8),(15.1,-6.1),(15.3,-5.4),(15.5,-4.8),(15.75,-4.0),(16.0,-3.3),(16.25,-2.6),(16.45,-2.1),(16.6,-2.0),(16.66,-2.5),(16.7,-3.3),(16.73,-3.6),(16.77,-2.8),(16.82,-1.5),(16.88,-0.8),(16.94,-0.7),(16.98,-1.2),(17.01,-2.0),(17.05,-2.1)],
 [(14.1,1.1),(14.18,-1.5),(14.27,-4.5),(14.36,-7.5),(14.45,-9.8),(14.55,-9.0),(14.7,-8.0),(14.9,-7.0),(15.1,-6.2),(15.3,-5.5),(15.5,-4.9),(15.75,-4.0),(16.0,-3.3),(16.25,-2.6),(16.45,-2.1),(16.6,-1.9),(16.67,-2.2),(16.72,-3.2),(16.75,-3.8),(16.79,-3.0),(16.84,-1.5),(16.9,-0.8),(16.95,-0.6),(16.99,-1.0),(17.02,-1.8),(17.05,-1.9)],
 [(14.05,1.1),(14.12,-1.0),(14.22,-3.5),(14.33,-7.0),(14.45,-9.7),(14.55,-8.9),(14.7,-7.9),(14.9,-7.0),(15.1,-6.2),(15.3,-5.6),(15.45,-5.2),(15.5,-4.8),(15.75,-4.0),(16.0,-3.3),(16.25,-2.6),(16.45,-2.0),(16.6,-1.8),(16.68,-2.1),(16.72,-3.0),(16.76,-3.8),(16.8,-3.0),(16.85,-1.5),(16.9,-0.9),(16.96,-0.7),(17.0,-1.3),(17.03,-2.0),(17.05,-2.0)],
 [(14.02,0.5),(14.1,-0.7),(14.2,-2.5),(14.3,-5.5),(14.4,-8.5),(14.46,-9.7),(14.55,-8.9),(14.7,-7.9),(14.9,-7.0),(15.1,-6.3),(15.3,-5.8),(15.5,-5.4),(15.58,-5.2),(15.62,-4.6),(15.8,-4.0),(16.0,-3.4),(16.25,-2.7),(16.45,-2.1),(16.6,-1.8),(16.68,-2.1),(16.73,-3.0),(16.77,-3.6),(16.81,-2.8),(16.86,-1.5),(16.92,-1.0),(16.97,-0.9),(17.0,-1.4),(17.05,-1.8)],
 [(14.0,0.0),(14.1,-1.0),(14.2,-2.8),(14.3,-5.8),(14.4,-8.5),(14.46,-9.6),(14.55,-8.9),(14.7,-8.0),(14.9,-7.1),(15.1,-6.5),(15.3,-6.0),(15.5,-5.6),(15.7,-5.2),(15.75,-4.5),(15.9,-4.0),(16.1,-3.3),(16.3,-2.6),(16.5,-2.0),(16.62,-1.7),(16.7,-2.0),(16.75,-3.0),(16.79,-3.5),(16.83,-2.6),(16.88,-1.6),(16.94,-1.2),(16.98,-1.2),(17.01,-1.6),(17.05,-1.8)],
 [(14.0,-0.5),(14.1,-1.3),(14.2,-3.0),(14.3,-6.0),(14.4,-8.6),(14.46,-9.5),(14.55,-8.9),(14.7,-8.0),(14.9,-7.2),(15.1,-6.6),(15.3,-6.1),(15.5,-5.7),(15.75,-5.3),(15.8,-4.4),(15.95,-4.0),(16.15,-3.3),(16.35,-2.5),(16.55,-1.8),(16.65,-1.6),(16.72,-2.0),(16.77,-3.0),(16.8,-3.4),(16.84,-2.5),(16.89,-1.7),(16.95,-1.4),(17.0,-1.4),(17.05,-2.0)],
 [(14.0,-1.0),(14.1,-1.6),(14.2,-3.0),(14.3,-6.0),(14.4,-8.8),(14.45,-9.2),(14.55,-8.6),(14.7,-7.8),(14.9,-7.1),(15.1,-6.6),(15.3,-6.3),(15.5,-6.0),(15.7,-5.8),(15.88,-5.6),(15.92,-4.6),(16.05,-4.0),(16.2,-3.3),(16.4,-2.5),(16.55,-1.9),(16.68,-1.7),(16.74,-2.2),(16.78,-3.0),(16.81,-3.3),(16.85,-2.5),(16.9,-1.8),(16.96,-1.5),(17.0,-1.7),(17.05,-2.2)],
 [(14.0,-1.5),(14.1,-1.5),(14.15,-1.8),(14.22,-2.2),(14.3,-5.0),(14.37,-8.0),(14.42,-8.8),(14.5,-8.3),(14.65,-7.6),(14.8,-7.0),(15.0,-6.5),(15.2,-6.2),(15.4,-6.0),(15.6,-5.8),(15.8,-5.6),(15.95,-5.4),(15.98,-4.2),(16.02,-3.8),(16.15,-3.3),(16.35,-2.5),(16.55,-1.7),(16.7,-1.4),(16.77,-1.7),(16.82,-2.7),(16.85,-3.0),(16.88,-2.4),(16.93,-1.8),(16.98,-1.6),(17.02,-1.9),(17.05,-2.3)],
 [(14.0,-0.7),(14.2,-0.8),(14.26,-1.2),(14.32,-4.5),(14.38,-7.8),(14.42,-8.3),(14.5,-7.8),(14.65,-7.2),(14.8,-6.7),(15.0,-6.3),(15.2,-6.0),(15.4,-5.8),(15.6,-5.6),(15.8,-5.6),(16.0,-5.5),(16.12,-5.4),(16.15,-4.0),(16.2,-3.0),(16.35,-2.5),(16.5,-2.0),(16.65,-1.5),(16.75,-1.3),(16.82,-1.4),(16.87,-2.0),(16.92,-2.5),(16.97,-2.2),(17.02,-1.6),(17.05,-1.7)],
 [(14.0,-0.2),(14.25,-0.3),(14.3,-1.0),(14.34,-4.5),(14.38,-7.2),(14.43,-7.8),(14.55,-7.1),(14.7,-6.5),(14.9,-5.9),(15.1,-5.5),(15.3,-5.2),(15.5,-5.0),(15.7,-4.9),(15.9,-4.8),(16.1,-4.8),(16.22,-4.8),(16.25,-5.5),(16.28,-4.0),(16.32,-2.5),(16.45,-2.0),(16.6,-1.5),(16.72,-1.2),(16.8,-1.2),(16.86,-1.6),(16.92,-2.6),(16.97,-3.0),(17.02,-2.4),(17.05,-1.8)],
 [(14.33,1.1),(14.37,-2.0),(14.41,-5.0),(14.45,-7.2),(14.5,-7.0),(14.55,-6.8),(14.7,-6.2),(14.92,-5.5),(15.2,-4.7),(15.58,-3.8),(15.92,-3.2),(16.05,-3.3),(16.12,-3.6),(16.28,-3.6),(16.35,-3.0),(16.4,-3.6),(16.45,-5.1),(16.48,-4.2),(16.51,-3.0),(16.58,-2.0),(16.65,-1.5),(16.75,-1.0),(16.85,-0.9),(16.88,-1.5),(16.92,-2.8),(17.05,-2.8)],
]
J_DASHED = [
 [(14.28,-24.5),(14.32,-20.0),(14.36,-16.9),(14.4,-14.5),(14.44,-13.1),(14.48,-13.6),(14.51,-14.5),(14.55,-16.8),(14.59,-19.3),(14.62,-21.5),(14.66,-24.5)],
 [(14.22,-24.5),(14.28,-20.5),(14.33,-16.5),(14.38,-13.8),(14.42,-13.2),(14.46,-13.8),(14.5,-15.5),(14.55,-18.5),(14.6,-21.5),(14.64,-24.5)],
 [(14.2,-24.5),(14.26,-20.0),(14.32,-16.0),(14.37,-13.8),(14.41,-13.5),(14.45,-14.5),(14.5,-17.0),(14.55,-20.0),(14.6,-24.5)],
 [(14.15,-24.5),(14.22,-18.0),(14.3,-12.5),(14.35,-10.5),(14.38,-10.2),(14.42,-11.0),(14.47,-14.0),(14.52,-18.0),(14.57,-22.0),(14.6,-24.5)],
 [(14.1,-24.5),(14.17,-19.0),(14.25,-13.0),(14.3,-10.5),(14.34,-9.6),(14.38,-10.2),(14.43,-13.0),(14.48,-17.0),(14.53,-21.0),(14.57,-24.5)],
 [(14.05,-24.5),(14.12,-18.0),(14.2,-12.5),(14.27,-10.0),(14.32,-9.8),(14.37,-11.0),(14.42,-14.0),(14.47,-18.0),(14.53,-22.0),(14.56,-24.5)],
 [(14.0,-24.5),(14.08,-19.0),(14.17,-13.5),(14.25,-11.3),(14.3,-11.0),(14.35,-11.8),(14.4,-14.5),(14.46,-18.5),(14.52,-22.0),(14.56,-24.5)],
 [(14.0,-23.0),(14.08,-18.0),(14.17,-13.5),(14.25,-11.5),(14.3,-11.3),(14.35,-12.3),(14.4,-15.0),(14.46,-19.0),(14.52,-22.5),(14.56,-24.5)],
 [(14.0,-22.0),(14.08,-17.5),(14.17,-13.8),(14.25,-12.0),(14.3,-11.8),(14.35,-12.8),(14.4,-15.5),(14.46,-19.5),(14.52,-23.0),(14.55,-24.5)],
 [(14.0,-21.0),(14.08,-17.0),(14.17,-14.0),(14.25,-12.5),(14.3,-12.3),(14.35,-13.3),(14.4,-16.0),(14.46,-20.0),(14.52,-23.5),(14.54,-24.5)],
 [(14.05,-24.5),(14.12,-19.0),(14.2,-14.5),(14.27,-12.8),(14.32,-12.6),(14.37,-13.5),(14.42,-16.5),(14.48,-20.5),(14.54,-24.5)],
 [(14.12,-24.5),(14.18,-19.0),(14.24,-15.0),(14.3,-12.8),(14.34,-12.6),(14.38,-13.5),(14.43,-17.0),(14.49,-21.0),(14.54,-24.5)],
 [(14.15,-24.5),(14.22,-19.0),(14.28,-15.0),(14.33,-13.0),(14.37,-12.8),(14.41,-14.0),(14.46,-17.5),(14.52,-21.5),(14.56,-24.5)],
 [(14.33,-24.5),(14.37,-19.0),(14.41,-15.5),(14.45,-14.2),(14.5,-15.5),(14.56,-19.0),(14.61,-22.5),(14.64,-24.5)],
]

# ---------------- axis setup ----------------
XLIM = (10**13.89, 10**17.19)
X_MAJOR = [1e14, 1e15, 1e16, 1e17]
X_LABELS = [r'$10^{14}$', r'$10^{15}$', r'$10^{16}$', r'$10^{17}$']
VG_TICKS = [0, 2e6, 4e6, 6e6]
VG_LABELS = [r'$0$', r'$2{\times}10^{6}$', r'$4{\times}10^{6}$', r'$6{\times}10^{6}$']
RHO_TICKS = [-25, -20, -15, -10]
VD_TICKS = [0, 1e6, 2e6, 3e6, 4e6]
VD_LABELS = [r'$0$', r'$10^{6}$', r'$2{\times}10^{6}$', r'$3{\times}10^{6}$', r'$4{\times}10^{6}$']
AD_TICKS = [-10, -5, 0]
J_TICKS = [-20, -15, -10]

NROW = 14
W, H = 1385, 1648
fig = plt.figure(figsize=(W/100, H/100), dpi=100)
lefts = [111, 431, 750, 1069]
pw = 217.5
top0, bot0 = 4, 1577
ph = (bot0 - top0) / NROW

TFS = 14.5
LW = 1.05
DASH = (0, (3.2, 3.2))


def xy(pts, scale=1.0):
    a = np.asarray(pts, dtype=float)
    return 10 ** a[:, 0], a[:, 1] * scale


def style(ax, row, yticks, ylabels, yminor, left=True, right=True):
    ax.set_xscale('log')
    ax.set_xlim(*XLIM)
    ax.xaxis.set_major_locator(FixedLocator(X_MAJOR))
    ax.xaxis.set_minor_locator(LogLocator(base=10, subs=np.arange(2, 10), numticks=20))
    ax.xaxis.set_minor_formatter(NullFormatter())
    if row == NROW - 1:
        ax.xaxis.set_major_formatter(FixedFormatter(X_LABELS))
    else:
        ax.xaxis.set_major_formatter(NullFormatter())
    ax.yaxis.set_major_locator(FixedLocator(yticks))
    ax.yaxis.set_major_formatter(FixedFormatter(ylabels))
    ax.yaxis.set_minor_locator(MultipleLocator(yminor))
    ax.tick_params(axis='both', which='both', direction='in', top=True, bottom=True,
                   left=left, right=right, labelsize=TFS, width=0.9)
    ax.tick_params(axis='x', which='major', length=6.5, pad=7)
    ax.tick_params(axis='x', which='minor', length=3.5)
    ax.tick_params(axis='y', which='major', length=5, pad=5)
    ax.tick_params(axis='y', which='minor', length=2.8)
    for s in ax.spines.values():
        s.set_linewidth(1.1)


for row in range(NROW):
    ytop = top0 + row * ph
    rect_b = 1 - (ytop + ph) / H
    def mk(c):
        return fig.add_axes([lefts[c] / W, rect_b, pw / W, ph / H])

    # column 1
    ax = mk(0)
    ax.plot(*xy(VG_GAS[row], 1e6), color='k', lw=LW)
    ax.plot(*xy(VG_DUST[row], 1e6), color='k', lw=LW, ls=DASH)
    ax.plot(10 ** VG_DOT[row][0], VG_DOT[row][1] * 1e6, 'o', color='k', ms=5.5)
    ax.set_ylim(-0.5e6, 7.3e6)
    style(ax, row, VG_TICKS, VG_LABELS, 0.5e6)

    # column 2
    ax = mk(1)
    ax.plot(*xy(RHO_GAS[row]), color='k', lw=LW)
    ax.plot(*xy(RHO_DUST[row]), color='k', lw=LW, ls=DASH)
    ax.set_ylim(-27.4, -7.9)
    style(ax, row, RHO_TICKS, [r'$%d$' % t for t in RHO_TICKS], 1)

    # column 3
    ax = mk(2)
    ax.plot(*xy(VD_SOLID[row], 1e6), color='k', lw=LW)
    ax.plot(*xy(VD_DASHED[row], 1e6), color='k', lw=LW, ls=DASH)
    ax.set_ylim(-0.5e6, 4.55e6)
    style(ax, row, VD_TICKS, VD_LABELS, 0.2e6)

    # column 4
    ax = mk(3)
    ax.plot(*xy(AD_SOLID[row]), color='k', lw=LW)
    ax.set_ylim(-12.1, 1.1)
    style(ax, row, AD_TICKS, [r'$%d$' % t for t in AD_TICKS], 1, right=False)
    ax2 = ax.twinx()
    ax2.plot(*xy(J_DASHED[row]), color='k', lw=LW, ls=DASH)
    ax2.set_ylim(-24.0, -7.96)
    ax2.set_xlim(*XLIM)
    ax2.yaxis.set_major_locator(FixedLocator(J_TICKS))
    ax2.yaxis.set_major_formatter(FixedFormatter([r'$%d$' % t for t in J_TICKS]))
    ax2.yaxis.set_minor_locator(MultipleLocator(1))
    ax2.tick_params(axis='y', which='both', direction='in', left=False, right=True, labelsize=TFS, width=0.9)
    ax2.tick_params(axis='y', which='major', length=5, pad=7)
    ax2.tick_params(axis='y', which='minor', length=2.8)
    ax2.tick_params(axis='x', which='both', top=False, bottom=False)

# axis labels
LFS = 17
yc = 1 - 790 / H
fig.text(17 / W, yc, r'$\mathrm{v_{g,d}\ [cm/s]}$', rotation=90, ha='center', va='center', fontsize=LFS)
fig.text(366 / W, yc, r'$\mathrm{log(\rho_{g,d})\ [g/cm^3]}$', rotation=90, ha='center', va='center', fontsize=LFS)
fig.text(668 / W, yc, r'$\mathrm{v_D,\overline{v}_D\ [cm/s]}$', rotation=90, ha='center', va='center', fontsize=LFS)
fig.text(1007 / W, yc, r'$\mathrm{log(a_d)\ [cm]}$', rotation=90, ha='center', va='center', fontsize=LFS)
fig.text(1352 / W, yc, r'$\mathrm{log(J_*)\ [s^{-1}]}$', rotation=90, ha='center', va='center', fontsize=LFS)
for c in range(4):
    fig.text((lefts[c] + pw / 2) / W, 1 - 1630 / H, r'$\mathrm{r\ [cm]}$', ha='center', va='center', fontsize=LFS)

fig.savefig('out.png', dpi=100)
